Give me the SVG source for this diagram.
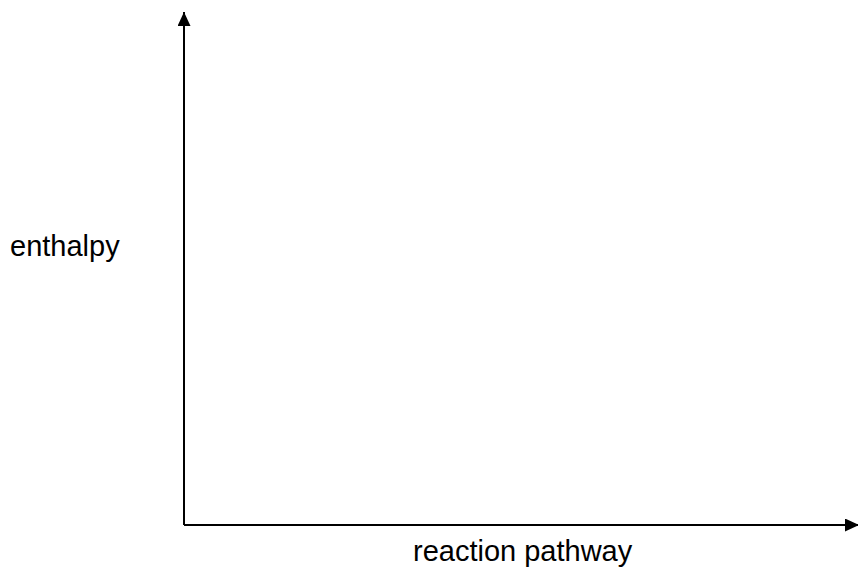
<svg xmlns="http://www.w3.org/2000/svg" width="858" height="567" viewBox="0 0 858 567">
  <style>
    .axis { stroke: #000; stroke-width: 2; fill: none; }
    .label { font-family: "Liberation Sans", Arial, sans-serif; font-size: 29px; fill: #000; }
  </style>
  <defs>
    <marker id="arrow" viewBox="0 0 14 13" refX="14" refY="6.5" markerWidth="14" markerHeight="13" markerUnits="userSpaceOnUse" orient="auto">
      <path d="M0,0 L14,6.5 L0,13 Z" fill="#000"/>
    </marker>
  </defs>
  <rect width="858" height="567" fill="#fff"/>
  <g id="axes">
    <path class="axis" d="M184,525 L184,12" marker-end="url(#arrow)"/>
    <path class="axis" d="M184,525 L859,525" marker-end="url(#arrow)"/>
  </g>
  <g id="y-label">
    <text class="label" x="10" y="256">enthalpy</text>
  </g>
  <g id="x-label">
    <text class="label" x="413" y="561">reaction pathway</text>
  </g>
</svg>
